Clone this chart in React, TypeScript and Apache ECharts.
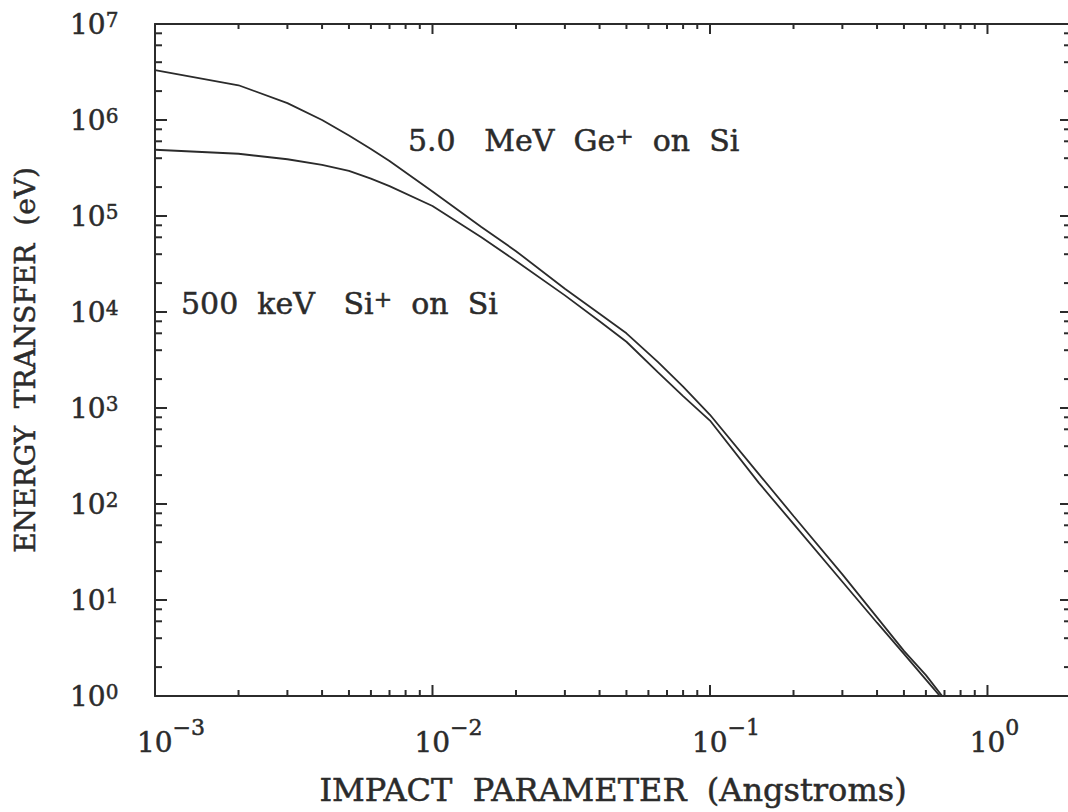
import React, { useEffect, useRef } from 'react';
import * as echarts from 'echarts';

// ---- data ----
const impactParameter = [0.001, 0.002, 0.003, 0.004, 0.005, 0.006, 0.007, 0.01, 0.015, 0.02, 0.03, 0.04, 0.05, 0.065, 0.08, 0.1, 0.15, 0.2, 0.3, 0.4, 0.5, 0.6, 0.7];
const geOnSi = [3.3e6, 2.3e6, 1.5e6, 1.0e6, 6.9e5, 5.0e5, 3.75e5, 1.8e5, 7.7e4, 4.3e4, 1.75e4, 9.6e3, 6.0e3, 3.0e3, 1.67e3, 850, 205, 75, 18.5, 6.6, 2.95, 1.65, 0.93];
const siOnSi = [4.9e5, 4.45e5, 3.9e5, 3.4e5, 2.95e5, 2.45e5, 2.05e5, 1.27e5, 6.0e4, 3.4e4, 1.49e4, 8.0e3, 4.9e3, 2.35e3, 1.33e3, 740, 166, 62, 15.5, 5.8, 2.75, 1.48, 0.88];

const X_MIN = 0.001;
const X_MAX = 2;
const Y_MIN = 1;
const Y_MAX = 1e7;
const xDecades = [0.001, 0.01, 0.1, 1];
const xMinorMultipliers = [2, 3, 4, 5, 6, 7, 8, 9];
const yDecades = [1, 10, 100, 1000, 1e4, 1e5, 1e6, 1e7];
const yMinorMultipliers = [2, 4, 6, 8];

const xAxisTitle = 'IMPACT  PARAMETER  (Angstroms)';
const yAxisTitle = 'ENERGY  TRANSFER  (eV)';
const geLabel = '5.0   MeV  Ge{s|+}  on  Si';
const siLabel = '500  keV   Si{s|+}  on  Si';

const FONT = '"DejaVu Serif", "Liberation Serif", serif';
const INK = '#2b2b2b';
const THICK = { textBorderColor: INK, textBorderWidth: 0.5 };

const xTicks = [
  ...xDecades,
  ...xDecades.flatMap((d) => xMinorMultipliers.map((m) => m * d)).filter((v) => v < X_MAX),
];
const yTicks = [
  ...yDecades,
  ...yDecades.flatMap((d) => yMinorMultipliers.map((m) => m * d)).filter((v) => v < Y_MAX),
];

function expOf(v: number): number | null {
  const l = Math.log10(v);
  const e = Math.round(l);
  return Math.abs(l - e) < 1e-6 ? e : null;
}

function fmtExp(e: number): string {
  return e < 0 ? '\u2212' + String(-e) : String(e);
}

export default function App() {
  const ref = useRef<HTMLDivElement>(null);

  useEffect(() => {
    if (!ref.current) return;
    const chart = echarts.init(ref.current, undefined, { renderer: 'svg' });

    const tickSeries = (
      data: number[][],
      valueDim: number,
      dx: number,
      dy: number,
      majorLen: number,
      minorLen: number
    ) => ({
      type: 'custom',
      silent: true,
      data,
      renderItem: (_p: any, api: any) => {
        const v = api.value(valueDim);
        const c = api.coord([api.value(0), api.value(1)]);
        const len = expOf(v) !== null ? majorLen : minorLen;
        return {
          type: 'line',
          shape: { x1: c[0], y1: c[1], x2: c[0] + dx * len, y2: c[1] + dy * len },
          style: { stroke: INK, lineWidth: 2 },
        };
      },
    });

    const axisCommon = {
      type: 'log',
      splitLine: { show: false },
      minorTick: { show: false },
      axisLine: { show: true, lineStyle: { color: INK, width: 2 } },
      axisTick: { show: false },
    };

    const option: any = {
      animation: false,
      backgroundColor: '#ffffff',
      grid: { left: 155, right: 9, top: 24, bottom: 116, outerBoundsMode: 'none' },
      xAxis: [
        {
          ...axisCommon,
          min: X_MIN,
          max: X_MAX,
          position: 'bottom',
          axisLabel: {
            show: true,
            margin: 20,
            showMaxLabel: false,
            color: INK,
            fontFamily: FONT,
            formatter: (v: number) => {
              const e = expOf(v);
              if (e === null) return '';
              const ex = fmtExp(e);
              const pad = ex.length > 1 ? 'p2' : 'p1';
              return `{${pad}| }{b|10}{s|${ex}}`;
            },
            rich: {
              p1: { width: 14, lineHeight: 40, fontSize: 10 },
              p2: { width: 32, lineHeight: 40, fontSize: 10 },
              b: { fontSize: 28, lineHeight: 28, fontFamily: FONT, color: INK, verticalAlign: 'bottom', ...THICK },
              s: { fontSize: 22, lineHeight: 20, fontFamily: FONT, color: INK, verticalAlign: 'top', ...THICK },
            },
          },
          name: xAxisTitle,
          nameLocation: 'middle',
          nameGap: 78,
          nameTextStyle: { fontSize: 32, fontFamily: FONT, color: INK, ...THICK },
        },
        {
          ...axisCommon,
          min: X_MIN,
          max: X_MAX,
          position: 'top',
          axisLabel: { show: false },
        },
      ],
      yAxis: [
        {
          ...axisCommon,
          min: Y_MIN,
          max: Y_MAX,
          position: 'left',
          axisLabel: {
            show: true,
            margin: 85,
            align: 'left',
            color: INK,
            fontFamily: FONT,
            formatter: (v: number) => {
              const e = expOf(v);
              if (e === null) return '';
              return `{b|10}{s|${fmtExp(e)}}`;
            },
            rich: {
              b: { fontSize: 28, lineHeight: 28, fontFamily: FONT, color: INK, ...THICK },
              s: { fontSize: 20, lineHeight: 12, fontFamily: FONT, color: INK, verticalAlign: 'top', ...THICK },
            },
          },
          name: yAxisTitle,
          nameLocation: 'middle',
          nameGap: 116,
          nameTextStyle: { fontSize: 28, fontFamily: FONT, color: INK, ...THICK },
        },
        {
          ...axisCommon,
          min: Y_MIN,
          max: Y_MAX,
          position: 'right',
          axisLabel: { show: false },
        },
      ],
      graphic: [
        {
          type: 'text',
          x: 408,
          y: 140,
          silent: true,
          style: {
            text: geLabel,
            fontSize: 30,
            fontFamily: FONT,
            fill: INK,
            stroke: INK,
            lineWidth: 0.5,
            lineHeight: 30,
            align: 'left',
            verticalAlign: 'middle',
            rich: {
              s: { fontSize: 22, lineHeight: 14, fontFamily: FONT, fill: INK, stroke: INK, lineWidth: 0.5, verticalAlign: 'top' },
            },
          },
        },
        {
          type: 'text',
          x: 181,
          y: 303,
          silent: true,
          style: {
            text: siLabel,
            fontSize: 30,
            fontFamily: FONT,
            fill: INK,
            stroke: INK,
            lineWidth: 0.5,
            lineHeight: 30,
            align: 'left',
            verticalAlign: 'middle',
            rich: {
              s: { fontSize: 22, lineHeight: 14, fontFamily: FONT, fill: INK, stroke: INK, lineWidth: 0.5, verticalAlign: 'top' },
            },
          },
        },
      ],
      series: [
        {
          name: '5.0 MeV Ge+ on Si',
          type: 'line',
          data: impactParameter.map((x, i) => [x, geOnSi[i]]),
          showSymbol: false,
          smooth: false,
          lineStyle: { color: INK, width: 1.8 },
          silent: true,
        },
        {
          name: '500 keV Si+ on Si',
          type: 'line',
          data: impactParameter.map((x, i) => [x, siOnSi[i]]),
          showSymbol: false,
          smooth: false,
          lineStyle: { color: INK, width: 1.8 },
          silent: true,
        },
        // bottom ticks (pointing up), top ticks (pointing down)
        tickSeries(xTicks.map((v) => [v, Y_MIN]), 0, 0, -1, 11, 6),
        tickSeries(xTicks.map((v) => [v, Y_MAX]), 0, 0, 1, 10, 5),
        // left ticks (pointing right), right ticks (pointing left)
        tickSeries(yTicks.map((v) => [X_MIN, v]), 1, 1, 0, 12, 7),
        tickSeries(yTicks.map((v) => [X_MAX, v]), 1, -1, 0, 11, 7),
      ],
    };

    chart.setOption(option);
    return () => {
      chart.dispose();
    };
  }, []);

  return (
    <div style={{ position: 'absolute', left: 0, top: 0, width: 1068, height: 812, overflow: 'hidden', background: '#ffffff' }}>
      <div ref={ref} style={{ position: 'absolute', left: 0, top: 0, width: 1080, height: 812 }} />
    </div>
  );
}
